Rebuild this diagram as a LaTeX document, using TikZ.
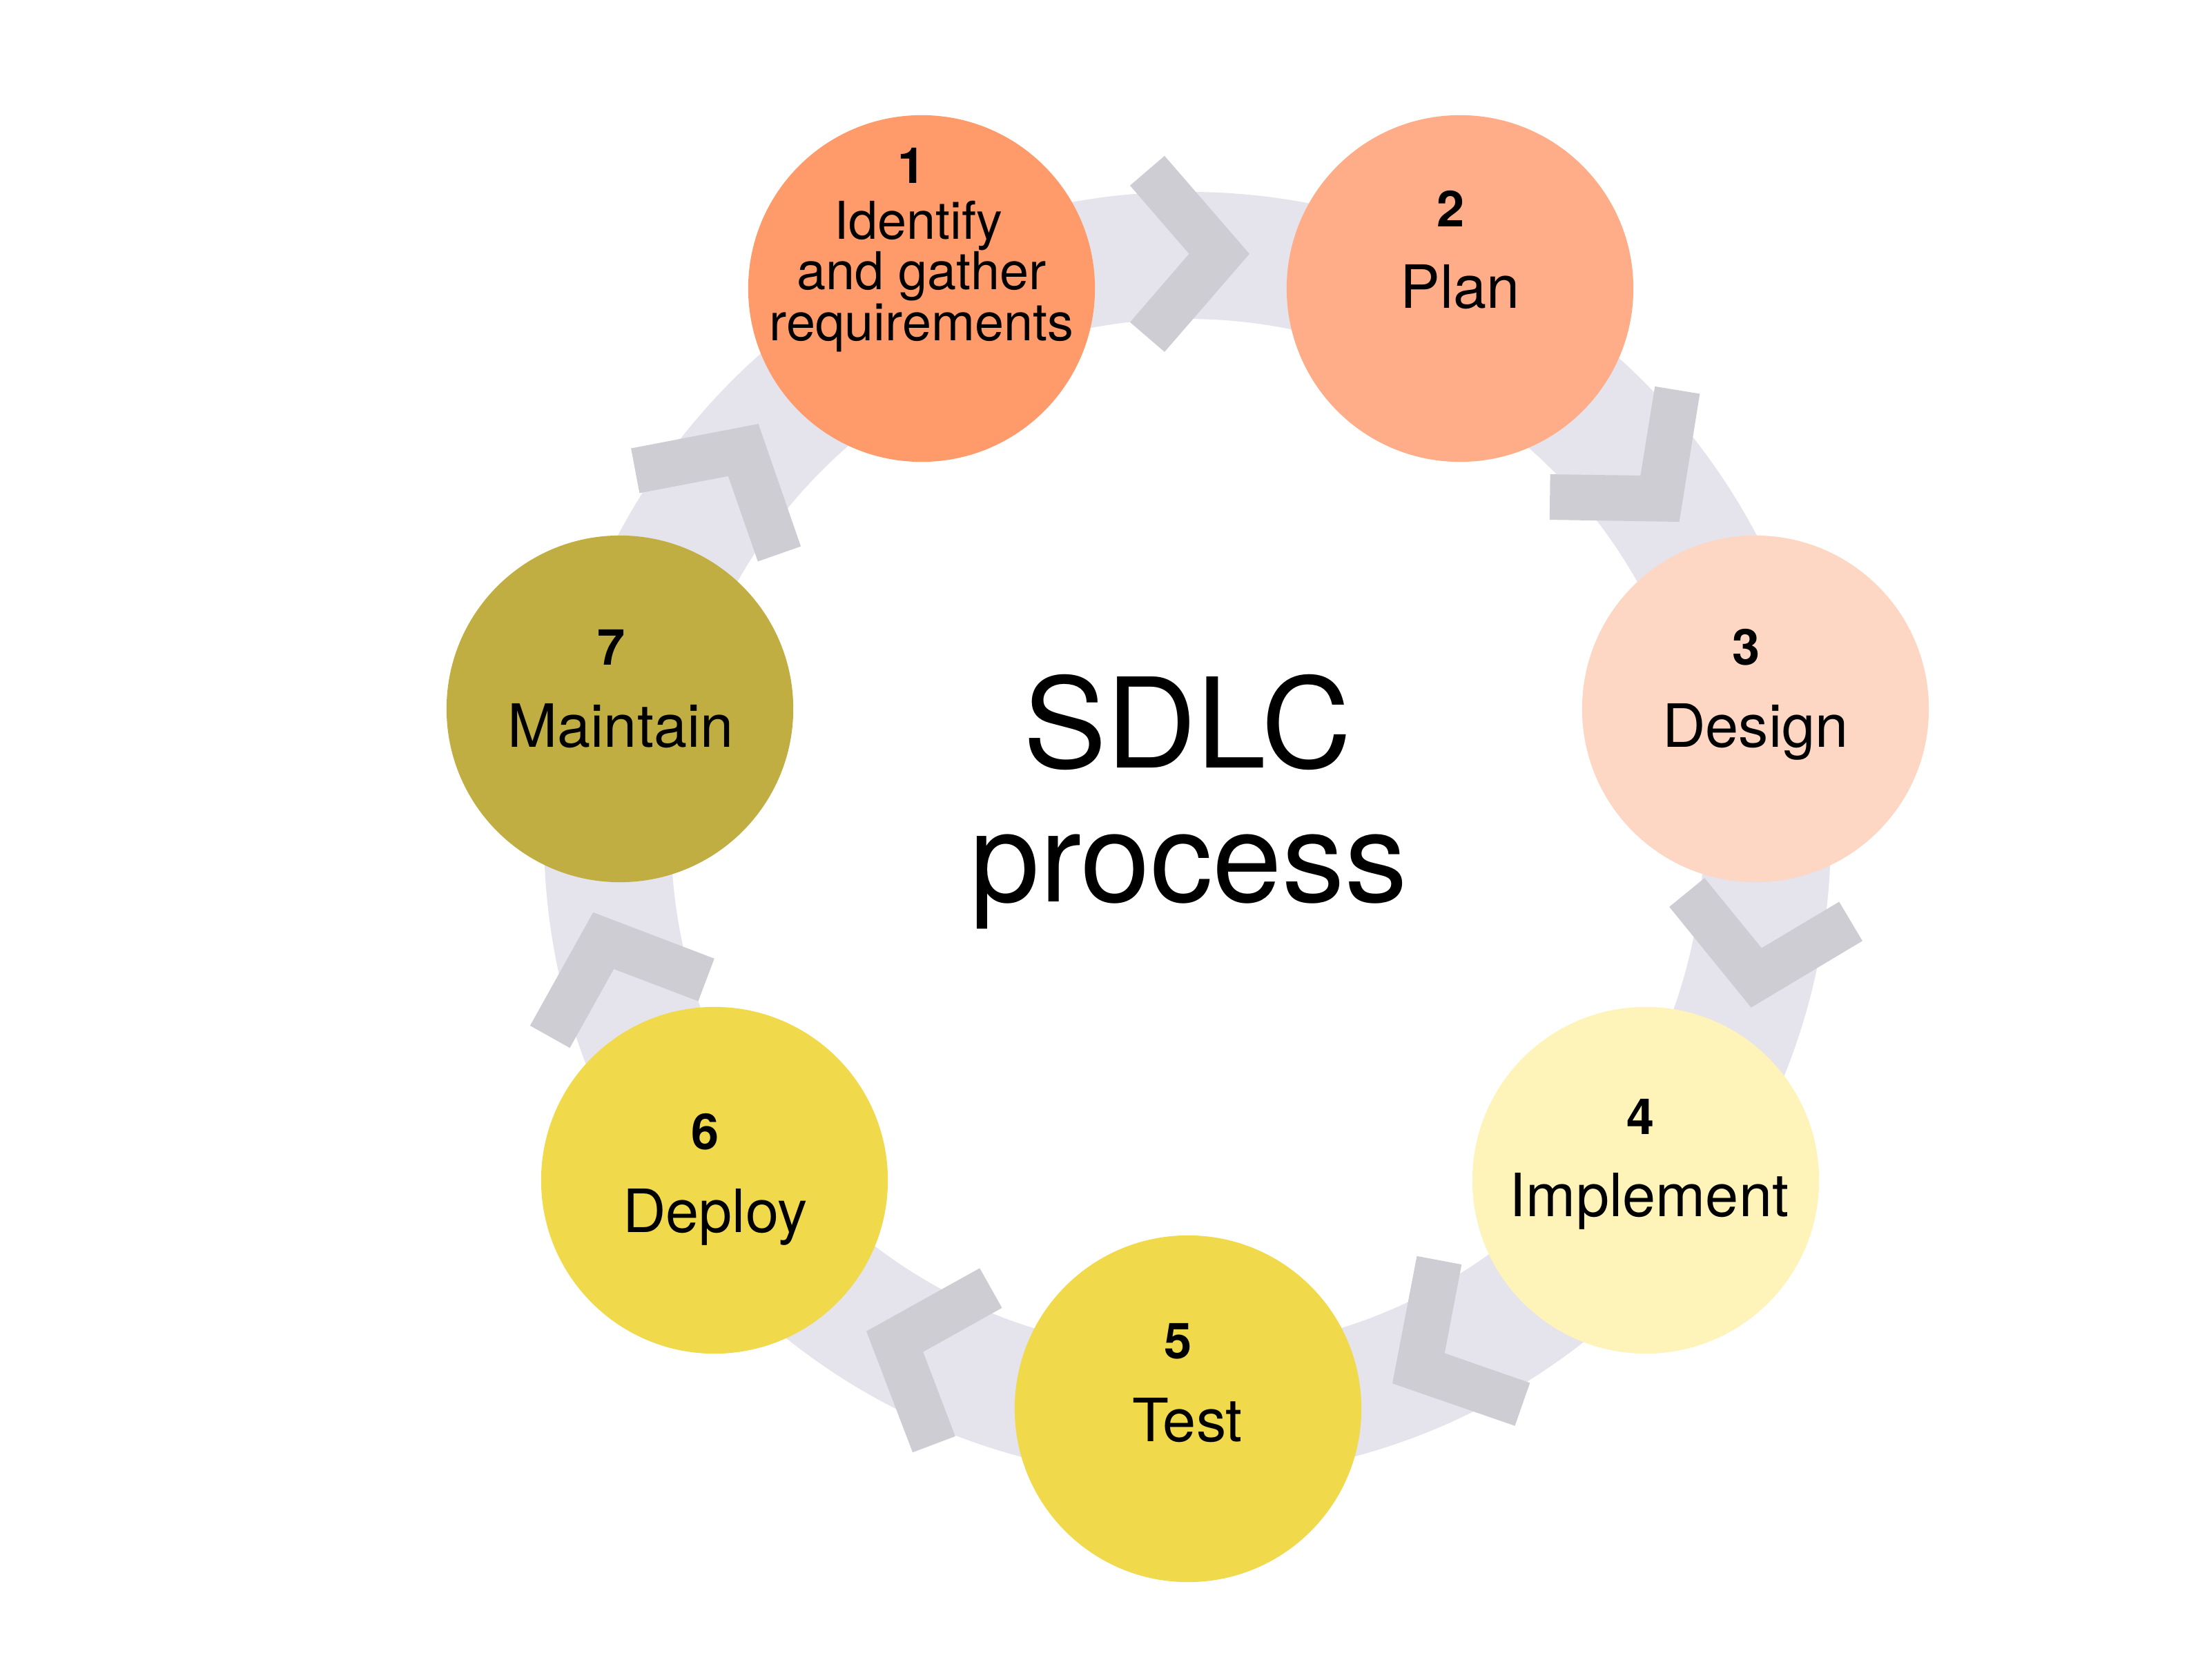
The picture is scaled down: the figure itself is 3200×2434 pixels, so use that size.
\documentclass[tikz,border=0pt]{standalone}
\usepackage{fontspec}
\setmainfont{TeX Gyre Heros}
\definecolor{ringc}{HTML}{E5E3EB}
\definecolor{chevc}{HTML}{CFCDD4}
\definecolor{cone}{HTML}{FF9A6B}
\definecolor{ctwo}{HTML}{FFAD88}
\definecolor{cthree}{HTML}{FDD6C4}
\definecolor{cfour}{HTML}{FEF4B9}
\definecolor{cfive}{HTML}{F0DA4B}
\definecolor{cseven}{HTML}{C0AE42}
\tikzset{
  stage/.style={circle, minimum size=5.02cm, inner sep=0pt, draw=none},
  numlbl/.style={anchor=base, inner sep=0pt, font=\fontsize{20.5pt}{22pt}\selectfont\bfseries},
  namelbl/.style={anchor=base, inner sep=0pt, font=\fontsize{24.6pt}{28pt}\selectfont},
  smalllbl/.style={anchor=base, inner sep=0pt, font=\fontsize{21.5pt}{24pt}\selectfont},
  titlelbl/.style={anchor=base, inner sep=0pt, font=\fontsize{51.5pt}{55pt}\selectfont},
  chevron/.style={fill=chevc, draw=none}
}
\begin{document}
\begin{tikzpicture}[x=0.01cm,y=-0.01cm]
\path[use as bounding box, fill=white] (0,0) rectangle (3200,2434);
\coordinate (O) at (1720,1210);
% ring
\draw[ringc, line width=1.84cm] (O) circle[radius=840];
% chevrons: tip angle / tip radius / travel direction (screen degrees)
\foreach \a/\d/\o in {-83.9/847/0, -32.5/845/50, 17.0/854/100, 69.5/848/150, 122.9/856/200, 172.6/868/250, 223.8/861/300}{
  \pgfmathsetmacro\px{1720+\d*cos(\a)}
  \pgfmathsetmacro\py{1210+\d*sin(\a)}
  \pgfmathsetmacro\r{-(\o)}
  \begin{scope}[shift={(\px,\py)}, rotate=\r]
    \fill[chevron] (0,0) -- (-123,142) -- (-173,99) -- (-87.5,0) -- (-173,-99) -- (-123,-142) -- cycle;
  \end{scope}
}
% stages
\node[stage, fill=cone]   (c1) at (1335,418)  {};
\node[stage, fill=ctwo]   (c2) at (2115,418)  {};
\node[stage, fill=cthree] (c3) at (2543,1027) {};
\node[stage, fill=cfour]  (c4) at (2384,1710) {};
\node[stage, fill=cfive]  (c5) at (1721,2041) {};
\node[stage, fill=cfive]  (c6) at (1035,1710) {};
\node[stage, fill=cseven] (c7) at (898,1027)  {};
% labels
\node[numlbl] (n1) at (1321,266) {1};
\node[smalllbl] (t1a) at (1330,347) {Identify};
\node[smalllbl] (t1b) at (1335,420) {and gather};
\node[smalllbl] (t1c) at (1335,494) {requirements};
\node[numlbl] (n2) at (2102,329) {2};
\node[namelbl] (t2) at (2115,447) {Plan};
\node[numlbl] (n3) at (2530,963) {3};
\node[namelbl] (t3) at (2543,1082) {Design};
\node[numlbl] (n4) at (2377,1643) {4};
\node[namelbl] (t4) at (2389,1762) {Implement};
\node[numlbl] (n5) at (1707,1968) {5};
\node[namelbl] (t5) at (1720,2088) {Test};
\node[numlbl] (n6) at (1022,1665) {6};
\node[namelbl] (t6) at (1036,1785) {Deploy};
\node[numlbl] (n7) at (886,963) {7};
\node[namelbl] (t7) at (899,1082) {Maintain};
% title
\node[titlelbl] (title1) at (1720,1112) {SDLC};
\node[titlelbl] (title2) at (1722,1306) {process};
\end{tikzpicture}
\end{document}
